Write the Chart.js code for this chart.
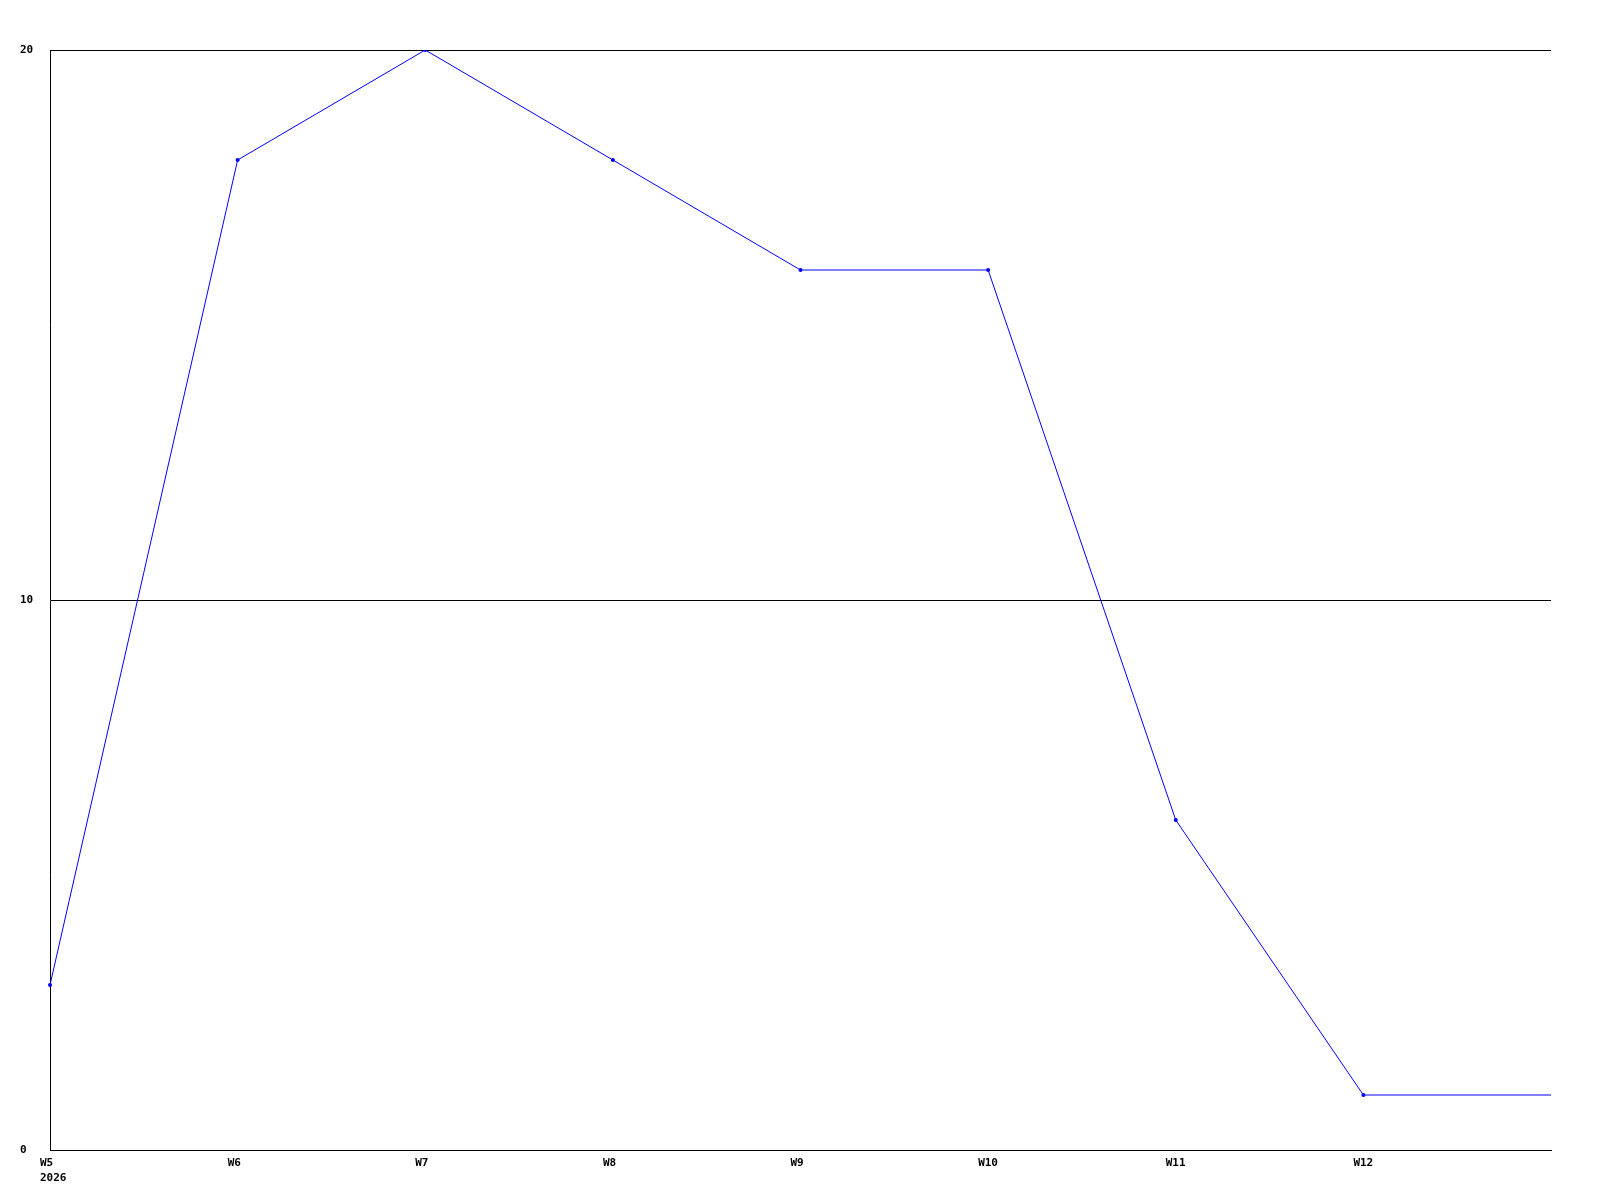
<!DOCTYPE html>
<html>
<head>
<meta charset="utf-8">
<script src="https://cdn.jsdelivr.net/npm/chart.js@4/dist/chart.umd.min.js"></script>
<style>
  html, body { margin: 0; padding: 0; background: #fff; }
  #wrap { width: 1600px; height: 1200px; }
</style>
</head>
<body>
<div id="wrap"><canvas id="myChart" width="1600" height="1200"></canvas></div>
<script>
// weeks on the x axis, the last one has no label (line runs to the edge)
const weeks = [['W5', '2026'], 'W6', 'W7', 'W8', 'W9', 'W10', 'W11', 'W12', ''];
const counts = [3, 18, 20, 18, 16, 16, 6, 1, 1];
const yTicks = [0, 10, 20];

const ctx = document.getElementById('myChart').getContext('2d');
const myChart = new Chart(ctx, {
  type: 'line',
  data: {
    labels: weeks,
    datasets: [{
      data: counts,
      borderColor: '#0000ff',
      backgroundColor: '#0000ff',
      borderWidth: 1,
      pointRadius: counts.map((v, i) => i === counts.length - 1 ? 0 : 2),
      pointBorderWidth: 0,
      tension: 0,
      fill: false
    }]
  },
  options: {
    responsive: false,
    animation: false,
    layout: { padding: { left: 20, top: 50, right: 49, bottom: 0 } },
    plugins: { legend: { display: false }, tooltip: { enabled: false } },
    scales: {
      x: {
        offset: false,
        grid: { display: false, drawTicks: false },
        border: { display: true, color: '#000', width: 1 },
        ticks: {
          autoSkip: false,
          maxRotation: 0,
          align: 'start',
          labelOffset: -10,
          padding: 6,
          color: '#000',
          font: { family: 'DejaVu Sans Mono', size: 11, weight: 'bold', lineHeight: 1.36 }
        },
        afterFit: s => { s.height = 50; }
      },
      y: {
        min: 0,
        max: 20,
        afterBuildTicks: s => { s.ticks = yTicks.map(v => ({ value: v })); },
        grid: { color: '#000', lineWidth: 1, drawTicks: false },
        border: { display: true, color: '#000', width: 1 },
        ticks: {
          crossAlign: 'far',
          padding: 0,
          color: '#000',
          font: { family: 'DejaVu Sans Mono', size: 11, weight: 'bold' }
        },
        afterFit: s => { s.width = 30; }
      }
    }
  }
});
</script>
</body>
</html>
